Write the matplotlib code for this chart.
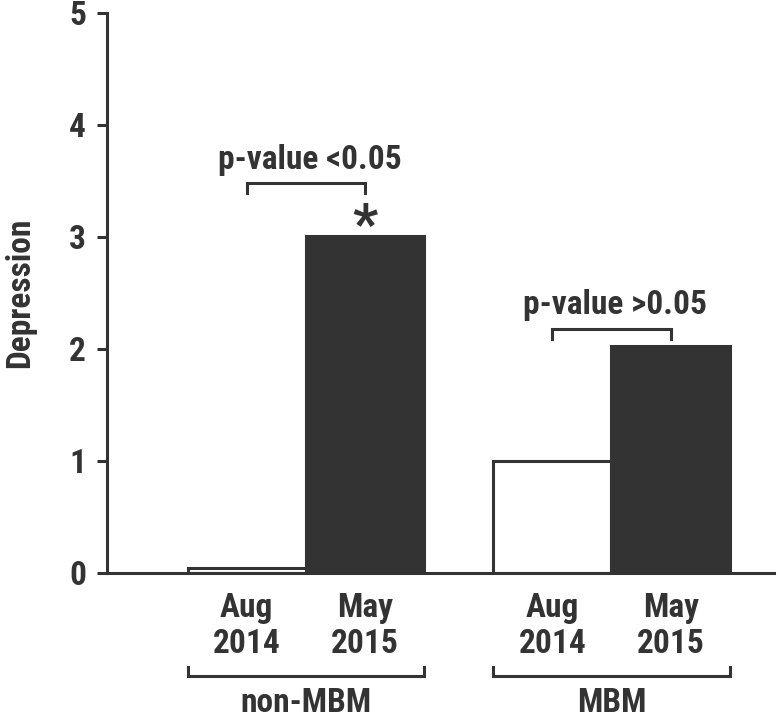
import numpy as np
import matplotlib.pyplot as plt
from matplotlib import font_manager

groups = ['non-MBM', 'MBM']
periods = ['Aug\n2014', 'May\n2015']
values = [0.04, 3.01, 1.0, 2.03]
p_labels = ['p-value <0.05', 'p-value >0.05']

dark = '#333333'

# narrow bold font if there is one
names = {f.name for f in font_manager.fontManager.ttflist}
fam = 'DejaVu Sans'
for cand in ['Liberation Sans Narrow', 'Arial Narrow', 'Roboto Condensed',
             'Open Sans Condensed', 'Noto Sans Condensed', 'DejaVu Sans Condensed']:
    if cand in names:
        fam = cand
        break
plt.rcParams['font.family'] = [fam, 'DejaVu Sans']
plt.rcParams['font.weight'] = 'bold'
plt.rcParams['axes.labelweight'] = 'bold'
if fam == 'DejaVu Sans':
    plt.rcParams['font.stretch'] = 'condensed'

fig = plt.figure(figsize=(7.78, 7.2), dpi=100)
ax = fig.add_axes([0.1375, 0.2042, 0.857, 0.7778])

x = np.array([0, 1, 2.58, 3.58])
colors = ['white', dark, 'white', dark]
ax.bar(x, values, width=1.0, color=colors, edgecolor=dark, linewidth=2.2)

ax.set_xlim(-1.18, 4.45)
ax.set_ylim(0, 5)
ax.set_yticks(range(6))
ax.set_xticks(x)
ax.set_xticklabels(periods * 2, fontsize=24, color=dark, linespacing=1.15)
ax.tick_params(axis='x', length=0, pad=14)
ax.tick_params(axis='y', length=7, width=2.2, color=dark, labelsize=24,
               labelcolor=dark, pad=8)
for s in ['top', 'right']:
    ax.spines[s].set_visible(False)
for s in ['left', 'bottom']:
    ax.spines[s].set_linewidth(2.2)
    ax.spines[s].set_color(dark)
ax.set_ylabel('Depression', fontsize=24, color=dark, labelpad=24)

# group brackets below the axis
for i, g in enumerate(groups):
    x0 = x[2 * i] - 0.5
    x1 = x[2 * i + 1] + 0.5
    ax.plot([x0, x0, x1, x1], [-0.84, -0.92, -0.92, -0.84], color=dark,
            lw=2.2, clip_on=False, solid_joinstyle='miter')
    ax.text((x0 + x1) / 2, -1.16, g, ha='center', va='center', fontsize=24,
            color=dark)

# significance brackets
tops = [3.48, 2.18]
for i, lab in enumerate(p_labels):
    xa = x[2 * i]
    xb = x[2 * i + 1]
    yt = tops[i]
    ax.plot([xa, xa, xb, xb], [yt - 0.09, yt, yt, yt - 0.09], color=dark,
            lw=2.2, clip_on=False, solid_joinstyle='miter')
    ax.text((xa + xb) / 2 + 0.03, yt + 0.13, lab, ha='center', va='baseline',
            fontsize=24, color=dark)

ax.text(x[1], 3.08, '*', ha='center', va='center', fontsize=40, color=dark)

fig.savefig('out.png', dpi=100)
